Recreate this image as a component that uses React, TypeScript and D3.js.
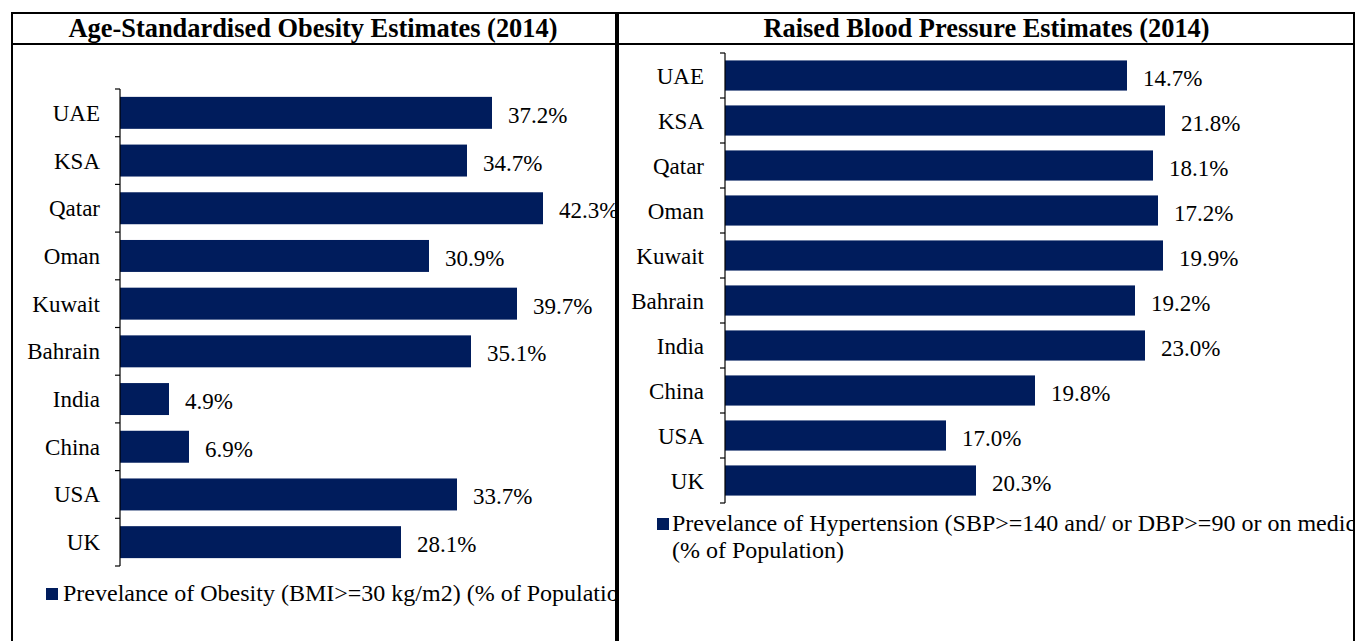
import React from "react";
import * as d3 from "d3";

const obesityCountries = ["UAE", "KSA", "Qatar", "Oman", "Kuwait", "Bahrain", "India", "China", "USA", "UK"];
const obesityValues = [37.2, 34.7, 42.3, 30.9, 39.7, 35.1, 4.9, 6.9, 33.7, 28.1];

const bpCountries = ["UAE", "KSA", "Qatar", "Oman", "Kuwait", "Bahrain", "India", "China", "USA", "UK"];
const bpLabels = ["14.7%", "21.8%", "18.1%", "17.2%", "19.9%", "19.2%", "23.0%", "19.8%", "17.0%", "20.3%"];
// bar lengths as drawn in the original (they do not follow the printed labels)
const bpBarValues = [40.2, 44.0, 42.8, 43.3, 43.8, 41.0, 42.0, 31.0, 22.1, 25.1];

const leftTitle = "Age-Standardised Obesity Estimates (2014)";
const rightTitle = "Raised Blood Pressure Estimates (2014)";
const leftLegend = "Prevelance of Obesity (BMI>=30 kg/m2) (% of Population)";
const rightLegend1 = "Prevelance of Hypertension (SBP>=140 and/ or DBP>=90 or on medication)";
const rightLegend2 = "(% of Population)";

const NAVY = "#001C5C";
const LABEL_SIZE = 23;
const LEGEND_SIZE = 24;
const TITLE_SIZE = 26.4;

function BarPanel({
  cats, values, labels, axisX, y0, y1, pxPerUnit, catRight,
}: {
  cats: string[]; values: number[]; labels: string[]; axisX: number; y0: number; y1: number;
  pxPerUnit: number; catRight: number;
}) {
  const y = d3.scaleBand<string>().domain(cats).range([y0, y1]).paddingInner(0.33).paddingOuter(0.165);
  const x = d3.scaleLinear().domain([0, 50]).range([axisX, axisX + 50 * pxPerUnit]);
  const step = y.step();
  const ticks = d3.range(cats.length + 1).map((i) => y0 + i * step);
  return (
    <g>
      {cats.map((c, i) => (
        <rect key={c} x={x(0)} y={y(c)!} width={x(values[i]) - x(0)} height={y.bandwidth()} fill={NAVY} />
      ))}
      <line x1={axisX} x2={axisX} y1={y0} y2={y1} stroke="#000" strokeWidth={1.2} />
      {ticks.map((t, i) => (
        <line key={i} x1={axisX - 5} x2={axisX} y1={t} y2={t} stroke="#000" strokeWidth={1.2} />
      ))}
      {cats.map((c) => (
        <text key={"c" + c} x={catRight} y={y(c)! + y.bandwidth() / 2 + 8} textAnchor="end"
          fontSize={LABEL_SIZE} fill="#000">{c}</text>
      ))}
      {cats.map((c, i) => (
        <text key={"v" + c} x={x(values[i]) + 16} y={y(c)! + y.bandwidth() / 2 + 10}
          fontSize={LABEL_SIZE} fill="#000">{labels[i]}</text>
      ))}
    </g>
  );
}

export default function App() {
  const W = 1357, H = 641;
  return (
    <svg width={W} height={H} fontFamily="serif" style={{ position: "absolute", left: 0, top: 0, background: "#fff" }}>
      <defs>
        <clipPath id="clipL"><rect x={12} y={0} width={603} height={H} /></clipPath>
        <clipPath id="clipR"><rect x={619} y={0} width={734} height={H} /></clipPath>
      </defs>
      <rect x={0} y={0} width={W} height={H} fill="#fff" />
      <g clipPath="url(#clipL)">
        <BarPanel cats={obesityCountries} values={obesityValues} labels={obesityValues.map((v) => d3.format(".1f")(v) + "%")}
          axisX={120} y0={89} y1={566} pxPerUnit={10} catRight={100} />
        <rect x={46} y={588} width={12} height={12} fill={NAVY} />
        <text x={63} y={601} fontSize={LEGEND_SIZE} fill="#000">{leftLegend}</text>
      </g>
      <g clipPath="url(#clipR)">
        <BarPanel cats={bpCountries} values={bpBarValues} labels={bpLabels}
          axisX={725} y0={53} y1={503} pxPerUnit={10} catRight={704} />
        <rect x={657} y={518} width={12} height={12} fill={NAVY} />
        <text x={672} y={531} fontSize={LEGEND_SIZE} fill="#000">{rightLegend1}</text>
        <text x={672} y={558} fontSize={LEGEND_SIZE} fill="#000">{rightLegend2}</text>
      </g>
      <text x={313} y={37} textAnchor="middle" fontSize={TITLE_SIZE} fontWeight="bold" fill="#000">{leftTitle}</text>
      <text x={986.5} y={37} textAnchor="middle" fontSize={TITLE_SIZE} fontWeight="bold" fill="#000">{rightTitle}</text>
      <line x1={11} x2={1355} y1={13} y2={13} stroke="#000" strokeWidth={2} />
      <line x1={11} x2={1355} y1={44} y2={44} stroke="#000" strokeWidth={2} />
      <line x1={12} x2={12} y1={12} y2={H} stroke="#000" strokeWidth={2} />
      <line x1={617} x2={617} y1={12} y2={H} stroke="#000" strokeWidth={4} />
      <line x1={1354} x2={1354} y1={12} y2={H} stroke="#000" strokeWidth={2} />
    </svg>
  );
}
